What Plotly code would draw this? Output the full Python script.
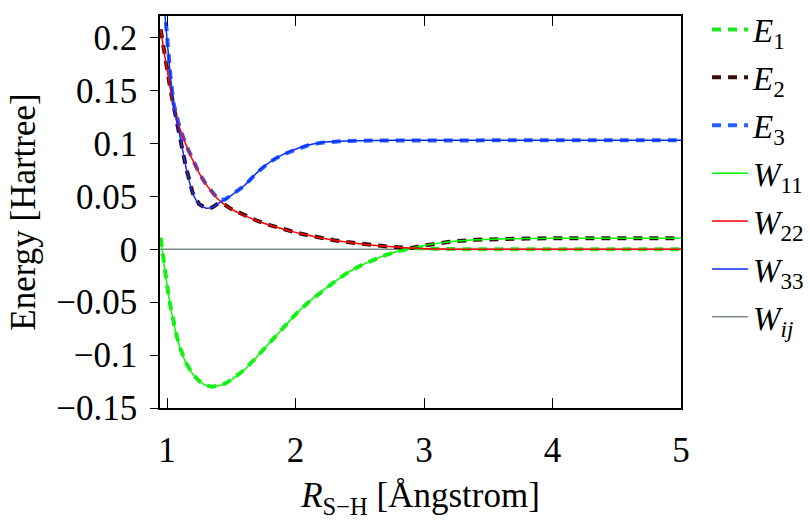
import numpy as np
import plotly.graph_objects as go

# ---------------- data ----------------
R = [0.95, 0.975, 1.0, 1.025, 1.05, 1.075, 1.1, 1.15, 1.2, 1.25, 1.3, 1.35, 1.4, 1.45,
     1.5, 1.6, 1.7, 1.8, 1.9, 2.0, 2.1, 2.2, 2.3, 2.4, 2.5, 2.6, 2.7, 2.8, 2.9, 3.0,
     3.1, 3.2, 3.4, 3.6, 3.8, 4.0, 4.25, 4.5, 4.75, 5.0]

W11 = [0.011, -0.013, -0.034, -0.053, -0.069, -0.082, -0.093, -0.108, -0.118, -0.1245,
       -0.1285, -0.1298, -0.129, -0.127, -0.1235, -0.114, -0.1015, -0.088, -0.075, -0.0615,
       -0.050, -0.040, -0.031, -0.0225, -0.0158, -0.0105, -0.0055, -0.0018, 0.0012, 0.0036,
       0.0056, 0.0072, 0.0090, 0.0098, 0.0102, 0.0104, 0.0105, 0.0105, 0.0105, 0.0105]

W22 = [0.208, 0.188, 0.170, 0.152, 0.136, 0.124, 0.114, 0.098, 0.084, 0.072,
       0.062, 0.054, 0.047, 0.042, 0.038, 0.032, 0.027, 0.0228, 0.0192, 0.0160,
       0.0132, 0.0107, 0.0086, 0.0068, 0.0052, 0.0039, 0.0028, 0.0019, 0.0012, 0.0006,
       0.0003, 0.0001, 0.0, 0.0, 0.0, 0.0, 0.0, 0.0, 0.0, 0.0]

W33 = [0.275, 0.235, 0.198, 0.165, 0.138, 0.121, 0.107, 0.076, 0.053, 0.0425,
       0.0390, 0.0395, 0.0435, 0.0470, 0.0510, 0.060, 0.0725, 0.0825, 0.0895, 0.0945,
       0.0985, 0.1008, 0.1018, 0.1024, 0.1027, 0.1028, 0.1029, 0.103, 0.103, 0.103,
       0.103, 0.103, 0.103, 0.103, 0.103, 0.103, 0.103, 0.103, 0.103, 0.103]

Wij_R = [0.945, 5.0]
Wij = [0.0, 0.0]

# adiabatic energies = eigenvalues (sorted diabatic energies, couplings ~ 0)
E_sorted = np.sort(np.vstack([W11, W22, W33]), axis=0)
E1, E2, E3 = E_sorted[0], E_sorted[1], E_sorted[2]

xticks = [1, 2, 3, 4, 5]
xticklabels = ["1", "2", "3", "4", "5"]
yticks = [-0.15, -0.1, -0.05, 0, 0.05, 0.1, 0.15, 0.2]
yticklabels = ["−0.15", "−0.1", "−0.05", "0", "0.05", "0.1", "0.15", "0.2"]

# ---------------- figure ----------------
FONT = "Liberation Serif, Times New Roman, DejaVu Serif, serif"
FS = 35
LFS = 33
fig = go.Figure()

# coupling line underneath everything
fig.add_trace(go.Scatter(x=Wij_R, y=Wij, mode="lines", name="<i>W<sub>ij</sub></i>",
                         line=dict(color="#7d8b8b", width=1.5), legendrank=7,
                         legendgroup="g7"))

dash = "9px,7px"
for name, y, col, rank in [("<i>E</i><sub>1</sub>", E1, "#22e622", 1),
                           ("<i>E</i><sub>2</sub>", E2, "#3a0c0c", 2),
                           ("<i>E</i><sub>3</sub>", E3, "#2461ff", 3)]:
    fig.add_trace(go.Scatter(x=R, y=y, mode="lines", name=name,
                             line=dict(color=col, width=4, dash=dash),
                             legendrank=rank, legendgroup=f"g{rank}"))

for name, y, col, rank in [("<i>W</i><sub>11</sub>", W11, "#00ff00", 4),
                           ("<i>W</i><sub>22</sub>", W22, "#ff0000", 5),
                           ("<i>W</i><sub>33</sub>", W33, "#0a2cff", 6)]:
    fig.add_trace(go.Scatter(x=R, y=y, mode="lines", name=name,
                             line=dict(color=col, width=1.5, shape="spline", smoothing=0.6),
                             legendrank=rank, legendgroup=f"g{rank}"))

fig.update_layout(
    width=810, height=524,
    margin=dict(l=160, r=127, t=1, b=116),
    paper_bgcolor="white", plot_bgcolor="white",
    font=dict(family=FONT, size=FS, color="black"),
    showlegend=True,
    legend=dict(x=1.05, y=1.037, xanchor="left", yanchor="top",
                font=dict(family=FONT, size=LFS), tracegroupgap=2,
                itemwidth=36, maxheight=520,
                bgcolor="rgba(0,0,0,0)", borderwidth=0),
    xaxis=dict(range=[0.945, 5.0], tickvals=xticks, ticktext=xticklabels,
               ticks="inside", ticklen=10, tickwidth=1.2, tickcolor="black",
               showline=True, linecolor="black", linewidth=1.5, mirror="ticks",
               showgrid=False, zeroline=False, ticklabelstandoff=10,
               tickfont=dict(family=FONT, size=FS),
               title=dict(text="<i>R</i><sub>S−H</sub> [Ångstrom]", standoff=14,
                          font=dict(family=FONT, size=FS))),
    yaxis=dict(range=[-0.15, 0.2205], tickvals=yticks, ticktext=yticklabels,
               ticks="outside", ticklen=8, tickwidth=1.2, tickcolor="black",
               showline=True, linecolor="black", linewidth=1.5, mirror=True,
               showgrid=False, zeroline=False, ticklabelstandoff=6,
               tickfont=dict(family=FONT, size=FS),
               title=dict(text="Energy [Hartree]", standoff=10,
                          font=dict(family=FONT, size=FS))),
)

fig.write_html("out.html")
